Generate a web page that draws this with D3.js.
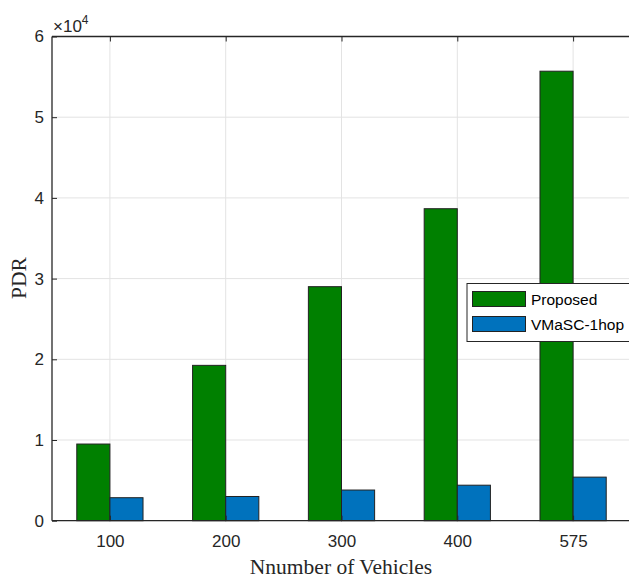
<!DOCTYPE html>
<html>
<head>
<meta charset="utf-8">
<script src="https://d3js.org/d3.v7.min.js"></script>
<style>
  html, body { margin: 0; padding: 0; background: #fff; overflow: hidden; }
</style>
</head>
<body>
<div id="chart"></div>
<script>
// datos (en unidades de 10^4)
const categories = ["100", "200", "300", "400", "575"];
const seriesNames = ["Proposed", "VMaSC-1hop"];
const proposed = [0.95, 1.925, 2.90, 3.866, 5.57];
const vmasc = [0.285, 0.30, 0.38, 0.44, 0.54];
const yTicks = [0, 1, 2, 3, 4, 5, 6];
const colors = ["#008000", "#0072BD"];

const width = 629, height = 578;
const mLeft = 52, mRight = 631, mTop = 36.5, mBottom = 520.7;

const svg = d3.select("#chart").append("svg")
    .attr("width", width)
    .attr("height", height);

const x = d3.scaleLinear().domain([0.5, 5.5]).range([mLeft, mRight]);
const y = d3.scaleLinear().domain([0, 6]).range([mBottom, mTop]);
const barW = 0.286;

// rejilla
const grid = svg.append("g");
grid.selectAll("line.gy")
    .data(yTicks)
    .enter().append("line")
    .attr("x1", mLeft).attr("x2", mRight)
    .attr("y1", d => y(d)).attr("y2", d => y(d))
    .attr("stroke", "#e3e3e3").attr("stroke-width", 1);
grid.selectAll("line.gx")
    .data(categories)
    .enter().append("line")
    .attr("x1", (d, i) => x(i + 1)).attr("x2", (d, i) => x(i + 1))
    .attr("y1", mTop).attr("y2", mBottom)
    .attr("stroke", "#e3e3e3").attr("stroke-width", 1);

// barras
const series = [proposed, vmasc];
series.forEach((vals, s) => {
    svg.append("g").selectAll("rect")
        .data(vals)
        .enter().append("rect")
        .attr("x", (d, i) => x(i + 1 + (s === 0 ? -barW : 0)))
        .attr("width", x(1 + barW) - x(1))
        .attr("y", d => y(d))
        .attr("height", d => y(0) - y(d))
        .attr("fill", colors[s])
        .attr("stroke", "#222")
        .attr("stroke-width", 1);
});

// ejes
const yAxis = d3.axisLeft(y).tickValues(yTicks).tickSize(-5).tickPadding(8).tickFormat(d3.format("d"));
const gy = svg.append("g").attr("transform", `translate(${mLeft},0)`).call(yAxis);
const xAxis = d3.axisBottom(x).tickValues([1, 2, 3, 4, 5]).tickSize(-5).tickPadding(14)
    .tickFormat(d => categories[d - 1]);
const gx = svg.append("g").attr("transform", `translate(0,${mBottom})`).call(xAxis);
const xTop = d3.axisTop(x).tickValues([1, 2, 3, 4, 5]).tickSize(-5).tickFormat("");
const gt = svg.append("g").attr("transform", `translate(0,${mTop})`).call(xTop);

[gy, gx, gt].forEach(g => {
    g.attr("font-size", null).attr("font-family", null);
    g.select(".domain").attr("stroke", "#262626").attr("stroke-width", 1.3);
    g.selectAll(".tick line").attr("stroke", "#262626").attr("stroke-width", 1);
    g.selectAll(".tick text")
        .attr("fill", "#262626")
        .attr("font-family", "Liberation Sans, Arial, sans-serif")
        .attr("font-size", 17);
});
gy.select(".domain").attr("d", `M0,${mBottom}V${mTop}`);
gx.select(".domain").attr("d", `M${mLeft},0H${mRight}`);
gt.select(".domain").attr("d", `M${mLeft},0H${mRight}`);

// multiplicador
const mult = svg.append("text")
    .attr("x", 53).attr("y", 32)
    .attr("fill", "#262626")
    .attr("font-family", "Liberation Sans, Arial, sans-serif")
    .attr("font-size", 17);
mult.append("tspan").text("\u00d710");
mult.append("tspan").attr("dy", -8).attr("font-size", 12).text("4");

// titulos
svg.append("text")
    .attr("x", 341).attr("y", 574)
    .attr("text-anchor", "middle")
    .attr("fill", "#262626")
    .attr("font-family", "Liberation Serif, Times New Roman, serif")
    .attr("font-size", 21.5)
    .text("Nnumber of Vehicles");
svg.append("text")
    .attr("transform", "translate(26,278) rotate(-90)")
    .attr("text-anchor", "middle")
    .attr("fill", "#262626")
    .attr("font-family", "Liberation Serif, Times New Roman, serif")
    .attr("font-size", 21.5)
    .text("PDR");

// leyenda
const leg = svg.append("g").attr("transform", "translate(467,283.5)");
leg.append("rect")
    .attr("width", 170).attr("height", 58)
    .attr("fill", "#fff")
    .attr("stroke", "#262626").attr("stroke-width", 1);
seriesNames.forEach((name, i) => {
    leg.append("rect")
        .attr("x", 5.5).attr("y", 8 + i * 25)
        .attr("width", 53).attr("height", 15)
        .attr("fill", colors[i])
        .attr("stroke", "#222").attr("stroke-width", 1);
    leg.append("text")
        .attr("x", 64).attr("y", 21.5 + i * 25)
        .attr("fill", "#000")
        .attr("font-family", "Liberation Sans, Arial, sans-serif")
        .attr("font-size", 15.5)
        .text(name);
});
</script>
</body>
</html>
